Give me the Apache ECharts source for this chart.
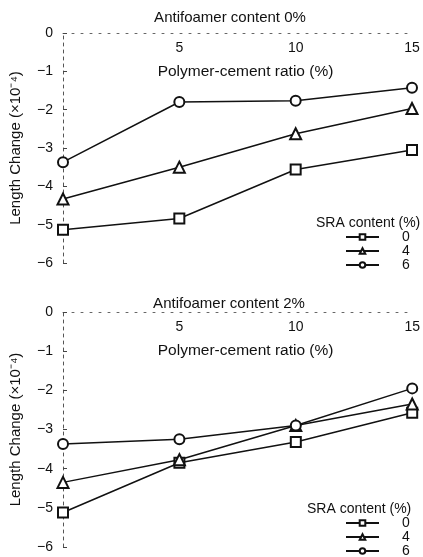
<!DOCTYPE html>
<html>
<head>
<meta charset="utf-8">
<script src="https://cdn.jsdelivr.net/npm/echarts@6/dist/echarts.min.js"></script>
<style>html,body{margin:0;padding:0;background:#fff;}#c{width:423px;height:557px;}</style>
</head>
<body>
<div id="c"></div>
<script>
// Data
const ratios = [0, 5, 10, 15];            // Polymer-cement ratio (%)
const sraNames = ['0', '4', '6'];         // SRA content (%)
const symbols = ['emptyRect', 'emptyTriangle', 'emptyCircle'];
const yTicks = [0, -1, -2, -3, -4, -5, -6];
// Antifoamer content 0%
const af0_sra0 = [-5.13, -4.84, -3.56, -3.05];
const af0_sra4 = [-4.33, -3.50, -2.63, -1.97];
const af0_sra6 = [-3.37, -1.80, -1.77, -1.43];
// Antifoamer content 2%
const af2_sra0 = [-5.12, -3.85, -3.32, -2.57];
const af2_sra4 = [-4.35, -3.77, -2.90, -2.35];
const af2_sra6 = [-3.37, -3.25, -2.90, -1.95];

const FONT = 'Liberation Sans, Arial, sans-serif';
const fmtMinus = v => String(v).replace('-', '\u2212');

function pairs(vals) { return ratios.map((x, i) => [x, vals[i]]); }

function xAxisCfg(gi) {
  return {
    gridIndex: gi, type: 'value', position: 'top', min: 0, max: 15, interval: 5,
    name: 'Polymer-cement ratio (%)', nameLocation: 'middle', nameGap: -47,
    nameTextStyle: { fontFamily: FONT, fontSize: 15.5, color: '#111', padding: [0, 0, 0, 16] },
    axisLine: { show: true, lineStyle: { color: '#666', type: [2, 7], width: 1 } },
    axisTick: { show: false },
    splitLine: { show: false },
    axisLabel: { inside: true, margin: 8, fontFamily: FONT, fontSize: 14, color: '#111',
      formatter: v => v === 0 ? '' : String(v) }
  };
}
function yAxisCfg(gi) {
  return {
    gridIndex: gi, type: 'value', min: -6, max: 0, interval: 1,
    name: 'Length Change (\u00d710\u207b\u2074)', nameLocation: 'middle', nameGap: 40, nameRotate: 90,
    nameTextStyle: { fontFamily: FONT, fontSize: 15, color: '#111' },
    axisLine: { show: true, lineStyle: { color: '#555', type: [3, 4], width: 1 } },
    axisTick: { show: true, inside: true, length: 4, lineStyle: { color: '#444' } },
    splitLine: { show: false },
    axisLabel: { margin: 10, fontFamily: FONT, fontSize: 14, color: '#111', formatter: fmtMinus }
  };
}
function seriesFor(gi, arrs) {
  return arrs.map((vals, k) => ({
    name: sraNames[k], type: 'line', xAxisIndex: gi, yAxisIndex: gi,
    data: pairs(vals), symbol: symbols[k], symbolSize: k === 1 ? 11 : 10,
    lineStyle: { color: '#111', width: 1.5 },
    itemStyle: { color: '#111', borderColor: '#111', borderWidth: 1.5 },
    z: 3
  }));
}
function legendCfg(top) {
  return {
    orient: 'vertical', left: 345, top: top, height: 60, padding: 0, itemWidth: 33, itemHeight: 7, itemGap: 0,
    data: sraNames, selectedMode: false,
    textStyle: { fontFamily: FONT, fontSize: 14, lineHeight: 12, color: '#111', padding: [0, 0, 0, 18] }
  };
}

const chart = echarts.init(document.getElementById('c'));
chart.setOption({
  backgroundColor: '#fff',
  animation: false,
  title: [
    { text: 'Antifoamer content 0%', left: 225, top: 5, textAlign: 'center',
      textStyle: { fontFamily: FONT, fontSize: 15, fontWeight: 'normal', color: '#111' } },
    { text: 'Antifoamer content 2%', left: 224, top: 291, textAlign: 'center',
      textStyle: { fontFamily: FONT, fontSize: 15, fontWeight: 'normal', color: '#111' } },
    { text: 'SRA content (%)', left: 316, top: 216, padding: 0,
      textStyle: { fontFamily: FONT, fontSize: 14, fontWeight: 'normal', color: '#111' } },
    { text: 'SRA content (%)', left: 307, top: 502, padding: 0,
      textStyle: { fontFamily: FONT, fontSize: 14, fontWeight: 'normal', color: '#111' } }
  ],
  grid: [
    { left: 60, top: 33, width: 352, height: 230 },
    { left: 58, top: 312, width: 357, height: 235 }
  ],
  xAxis: [xAxisCfg(0), xAxisCfg(1)],
  yAxis: [yAxisCfg(0), yAxisCfg(1)],
  legend: [legendCfg(230), legendCfg(516)],
  series: [...seriesFor(0, [af0_sra0, af0_sra4, af0_sra6]), ...seriesFor(1, [af2_sra0, af2_sra4, af2_sra6])]
});
</script>
</body>
</html>
